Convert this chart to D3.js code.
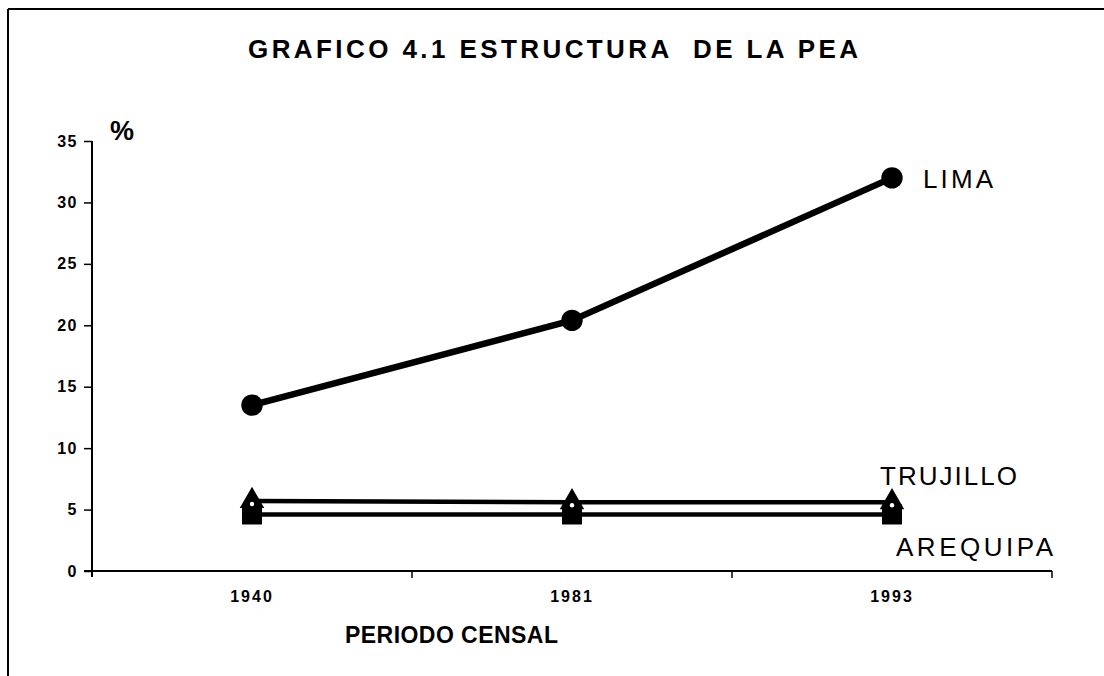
<!DOCTYPE html>
<html>
<head>
<meta charset="utf-8">
<script src="https://cdn.jsdelivr.net/npm/d3@7"></script>
<style>
  html, body { margin: 0; padding: 0; background: #fff; }
  svg { display: block; }
  text { font-family: "Liberation Sans", Arial, sans-serif; fill: #000; }
</style>
</head>
<body>
<svg id="chart" width="1104" height="676"></svg>
<script>
// ---- data ----
const categories = ["1940", "1981", "1993"];
const lima = [13.5, 20.4, 32.0];
const trujillo = [5.7, 5.6, 5.6];
const arequipa = [4.6, 4.6, 4.6];
const yTicks = [0, 5, 10, 15, 20, 25, 30, 35];
const seriesNames = ["LIMA", "TRUJILLO", "AREQUIPA"];
const titleText = "GRAFICO 4.1 ESTRUCTURA  DE LA PEA";
const xTitle = "PERIODO CENSAL";
const yUnit = "%";

// ---- layout ----
const svg = d3.select("#chart");
const plotL = 92, plotR = 1052, plotT = 141, plotB = 571;

const x = d3.scaleBand().domain(categories).range([plotL, plotR]).paddingInner(0).paddingOuter(0);
const y = d3.scaleLinear().domain([0, 35]).range([plotB, plotT]);
const cx = c => x(c) + x.bandwidth() / 2;

// frame (top and left edges visible)
svg.append("line").attr("x1", 8).attr("y1", 9).attr("x2", 1104).attr("y2", 9)
  .attr("stroke", "#000").attr("stroke-width", 2);
svg.append("line").attr("x1", 8).attr("y1", 9).attr("x2", 8).attr("y2", 676)
  .attr("stroke", "#000").attr("stroke-width", 2);

// title
svg.append("text").attr("x", 248).attr("y", 58)
  .attr("font-size", 26).attr("font-weight", "bold")
  .attr("textLength", 610).attr("lengthAdjust", "spacing")
  .style("white-space", "pre")
  .text(titleText);

// y axis
const yAxis = d3.axisLeft(y).tickValues(yTicks).tickSize(8).tickPadding(6).tickFormat(d3.format("d"));
const gy = svg.append("g").attr("transform", `translate(${plotL},0)`).call(yAxis);
gy.select(".domain").remove();
gy.selectAll(".tick line").attr("stroke", "#000").attr("stroke-width", 1.5);
gy.selectAll(".tick text").attr("font-size", 16).attr("font-weight", "bold")
  .attr("font-family", "'Liberation Sans', Arial, sans-serif").attr("letter-spacing", 1.5);
svg.append("line").attr("x1", plotL).attr("x2", plotL).attr("y1", plotT).attr("y2", plotB + 6)
  .attr("stroke", "#000").attr("stroke-width", 2);

// x axis
const xAxis = d3.axisBottom(x).tickSize(0).tickPadding(20);
const gx = svg.append("g").attr("transform", `translate(0,${plotB})`).call(xAxis);
gx.select(".domain").remove();
gx.selectAll(".tick text").attr("font-size", 16).attr("font-weight", "bold")
  .attr("font-family", "'Liberation Sans', Arial, sans-serif").attr("letter-spacing", 2);
svg.append("line").attr("x1", plotL - 8).attr("x2", plotR).attr("y1", plotB).attr("y2", plotB)
  .attr("stroke", "#000").attr("stroke-width", 2);
// boundary ticks
svg.selectAll(".bt").data(categories).enter().append("line")
  .attr("x1", d => x(d) + x.bandwidth()).attr("x2", d => x(d) + x.bandwidth())
  .attr("y1", plotB).attr("y2", plotB + 7)
  .attr("stroke", "#000").attr("stroke-width", 1.5);

// axis titles
svg.append("text").attr("x", 110).attr("y", 140)
  .attr("font-size", 27).attr("font-weight", "bold").text(yUnit);
svg.append("text").attr("x", 345).attr("y", 643)
  .attr("font-size", 23).attr("font-weight", "bold")
  .attr("textLength", 213).attr("lengthAdjust", "spacing").text(xTitle);

// lines
const line = d3.line().x((d, i) => cx(categories[i])).y(d => y(d));
svg.append("path").datum(trujillo).attr("d", line).attr("fill", "none")
  .attr("stroke", "#000").attr("stroke-width", 4.5);
svg.append("path").datum(arequipa).attr("d", line).attr("fill", "none")
  .attr("stroke", "#000").attr("stroke-width", 4.5);
svg.append("path").datum(lima).attr("d", line).attr("fill", "none")
  .attr("stroke", "#000").attr("stroke-width", 6.5).attr("stroke-linejoin", "round");

// markers
svg.selectAll(".mA").data(arequipa).enter().append("rect")
  .attr("x", (d, i) => cx(categories[i]) - 10).attr("y", d => y(d) - 10)
  .attr("width", 20).attr("height", 20)
  .attr("fill", "#000");
svg.selectAll(".mT").data(trujillo).enter().append("path")
  .attr("d", d3.symbol(d3.symbolTriangle, 260))
  .attr("transform", (d, i) => `translate(${cx(categories[i])},${y(d)})`)
  .attr("fill", "#000");
svg.selectAll(".mTi").data(trujillo).enter().append("circle")
  .attr("cx", (d, i) => cx(categories[i])).attr("cy", d => y(d) + 3).attr("r", 2.2)
  .attr("fill", "#fff");
svg.selectAll(".mL").data(lima).enter().append("path")
  .attr("d", d3.symbol(d3.symbolCircle, 360))
  .attr("transform", (d, i) => `translate(${cx(categories[i])},${y(d)})`)
  .attr("fill", "#000");

// series labels
const last = categories.length - 1;
svg.append("text").attr("x", cx(categories[last]) + 31).attr("y", y(lima[last]) + 10)
  .attr("font-size", 26).attr("textLength", 70).attr("lengthAdjust", "spacing").text(seriesNames[0]);
svg.append("text").attr("x", cx(categories[last]) - 12).attr("y", y(trujillo[last]) - 17)
  .attr("font-size", 26).attr("textLength", 137).attr("lengthAdjust", "spacing").text(seriesNames[1]);
svg.append("text").attr("x", cx(categories[last]) + 4).attr("y", y(arequipa[last]) + 42)
  .attr("font-size", 26).attr("textLength", 157).attr("lengthAdjust", "spacing").text(seriesNames[2]);
</script>
</body>
</html>
